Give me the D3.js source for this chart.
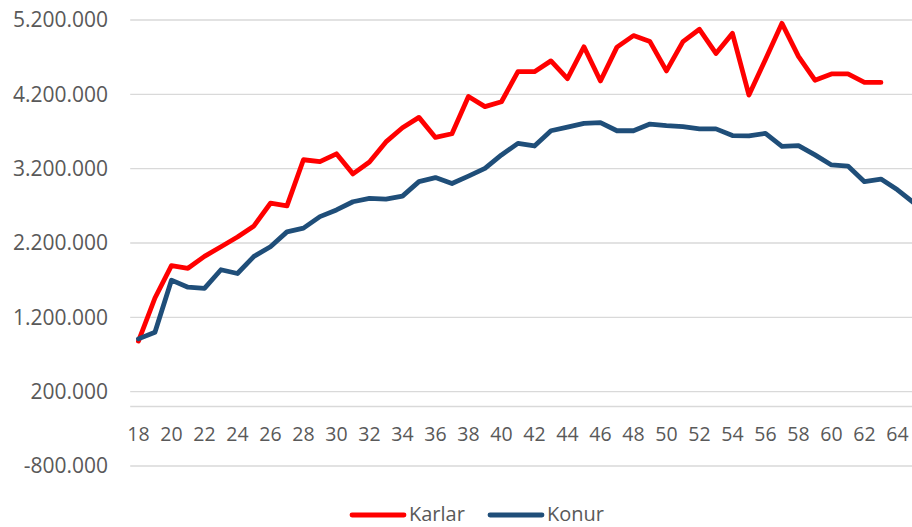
<!DOCTYPE html>
<html>
<head>
<meta charset="utf-8">
<script src="https://cdn.jsdelivr.net/npm/d3@7"></script>
<style>
  body { margin: 0; background: #fff; overflow: hidden; }
  text { font-family: "Open Sans", sans-serif; fill: #595959; }
</style>
</head>
<body>
<script>
var width = 912;
var height = 527;

// ages on the category axis
var ages = d3.range(18, 66);
var ageLabels = d3.range(18, 65, 2);

// values
var karlar = [880000, 1460000, 1895000, 1860000, 2020000, 2150000, 2280000, 2430000, 2735000, 2700000,
  3320000, 3295000, 3400000, 3130000, 3290000, 3560000, 3750000, 3890000, 3620000, 3670000,
  4170000, 4035000, 4100000, 4505000, 4505000, 4650000, 4410000, 4840000, 4380000, 4835000,
  4990000, 4910000, 4515000, 4910000, 5075000, 4750000, 5020000, 4190000, 4670000, 5155000,
  4710000, 4390000, 4475000, 4475000, 4360000, 4360000];
var konur = [910000, 1000000, 1700000, 1605000, 1590000, 1840000, 1790000, 2020000, 2150000, 2350000,
  2400000, 2555000, 2645000, 2755000, 2800000, 2790000, 2830000, 3025000, 3080000, 3000000,
  3100000, 3205000, 3385000, 3540000, 3505000, 3710000, 3760000, 3810000, 3820000, 3710000,
  3710000, 3800000, 3780000, 3765000, 3735000, 3735000, 3645000, 3640000, 3675000, 3500000,
  3510000, 3385000, 3250000, 3235000, 3025000, 3060000, 2915000, 2740000];

var yTicks = [-800000, 200000, 1200000, 2200000, 3200000, 4200000, 5200000];

var series = [
  {name: 'Karlar', values: karlar, color: '#ff0000'},
  {name: 'Konur', values: konur, color: '#1f4e79'}
];

var svg = d3.select('body')
    .append('svg')
    .attr('width', width)
    .attr('height', height);

var x = d3.scaleBand()
    .domain(ages)
    .range([130.2, 130.2 + ages.length * 16.5]);

var y = d3.scaleLinear()
    .domain([-800000, 5200000])
    .range([466, 20]);

var loc = d3.formatLocale({decimal: ',', thousands: '.', grouping: [3], currency: ['', ''], minus: '-'});
var fmt = loc.format(',d');

// gridlines
svg.append('g')
    .selectAll('line')
    .data(yTicks.concat([0]))
    .enter()
    .append('line')
    .attr('x1', x.range()[0])
    .attr('x2', x.range()[1])
    .attr('y1', d => y(d))
    .attr('y2', d => y(d))
    .attr('stroke', '#d9d9d9')
    .attr('stroke-width', 1.4);

// y axis
var yAxis = svg.append('g')
    .attr('transform', 'translate(108,0)')
    .call(d3.axisLeft(y).tickValues(yTicks).tickFormat(fmt).tickSize(0).tickPadding(0));
yAxis.select('.domain').remove();
yAxis.selectAll('text')
    .style('font-size', '21px')
    .attr('fill', null);

// x axis labels
var xAxis = svg.append('g')
    .attr('transform', 'translate(0,' + 427 + ')')
    .call(d3.axisBottom(x).tickValues(ageLabels).tickSize(0).tickPadding(0));
xAxis.select('.domain').remove();
xAxis.selectAll('text')
    .style('font-size', '19.5px')
    .attr('fill', null);

var line = d3.line()
    .x((d, i) => x(ages[i]) + x.bandwidth() / 2)
    .y(d => y(d));

svg.append('g')
    .selectAll('path')
    .data(series)
    .enter()
    .append('path')
    .attr('d', d => line(d.values))
    .attr('fill', 'none')
    .attr('stroke', d => d.color)
    .attr('stroke-width', 4.8)
    .attr('stroke-linejoin', 'round')
    .attr('stroke-linecap', 'round');

// legend (kept just inside the bottom edge)
var legend = svg.append('g');
var lx = [352, 490];
series.forEach(function(s, i) {
    legend.append('line')
        .attr('x1', lx[i])
        .attr('x2', lx[i] + 52)
        .attr('y1', 515)
        .attr('y2', 515)
        .attr('stroke', s.color)
        .attr('stroke-width', 4.8)
        .attr('stroke-linecap', 'round');
    legend.append('text')
        .attr('x', lx[i] + 57)
        .attr('y', 521)
        .style('font-size', '20px')
        .text(s.name);
});
</script>
</body>
</html>
